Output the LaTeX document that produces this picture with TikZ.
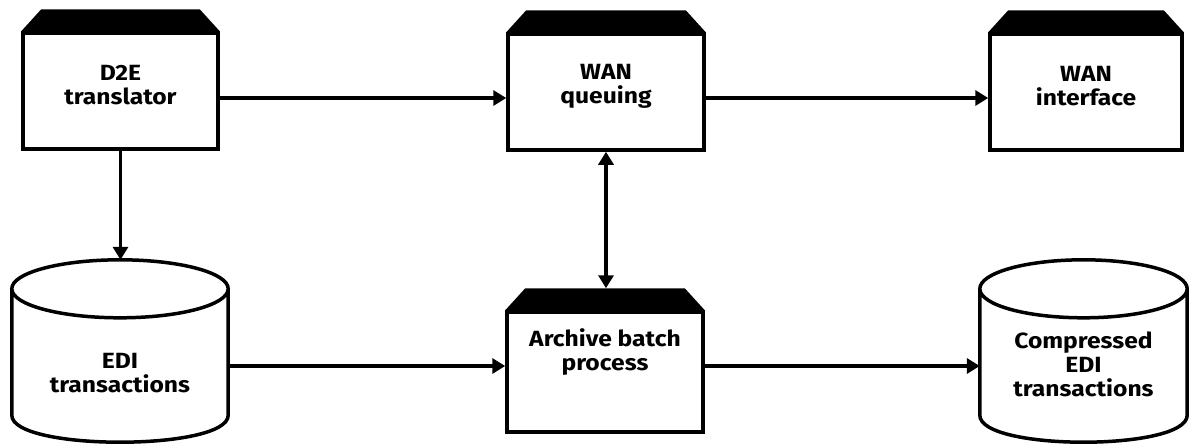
\documentclass[tikz,border=0pt]{standalone}
\usepackage{fontspec}
\setmainfont{Fira Sans}[FakeStretch=1.12]
\usetikzlibrary{arrows.meta,calc}

% black chamfered lid on top of a process box
\newcommand\roof[1]{%
  \fill let \p1=(#1.north west), \p2=(#1.north east) in
    (\p1) -- ({\x1+20pt},{\y1+22pt}) -- ({\x2-20pt},{\y2+22pt}) -- (\p2) -- cycle;}
% storage drum drawn around a node that covers its body
\newcommand\drum[1]{%
  \draw[line width=3.5pt] let \p1=(#1.north west), \p2=(#1.south east),
      \n1={0.5*(\x2-\x1)} in
    ({0.5*(\x1+\x2)},{\y1+17pt}) ellipse [x radius=\n1, y radius=29pt]
    (\x1,{\y1+17pt}) -- (\x1,{\y2+27pt})
    .. controls (\x1,{\y2-9pt}) and (\x2,{\y2-9pt}) .. (\x2,{\y2+27pt})
    -- (\x2,{\y1+17pt});}

\begin{document}
\begin{tikzpicture}[x=1pt,y=-1pt,
  line join=miter,
  caption/.style={inner sep=0pt, align=center, font=\bfseries\fontsize{22}{24}\selectfont},
  proc/.style={draw, line width=3.5pt, inner sep=0pt},
  store/.style={inner sep=0pt},
  tip/.style={Triangle[length=13pt,width=15pt]},
  flow/.style={-{Triangle[length=13pt,width=15pt]}, line width=3.5pt},
  flowboth/.style={{Triangle[length=13pt,width=15pt]}-{Triangle[length=13pt,width=15pt]}, line width=3.5pt},
]
\useasboundingbox (0,0) rectangle (1189,445);

% process boxes
\node[proc, minimum width=195pt, minimum height=116pt] (d2e)  at (120.5,91) {};
\node[proc, minimum width=196pt, minimum height=116pt] (wanq) at (606,92)   {};
\node[proc, minimum width=192pt, minimum height=116pt] (wani) at (1086,92)  {};
\node[proc, minimum width=196pt, minimum height=120pt] (arch) at (605,372)  {};
\roof{d2e}\roof{wanq}\roof{wani}\roof{arch}
\node[caption] (d2etext)  at ([yshift=6pt]d2e.center)   {D2E\\translator};
\node[caption] (wanqtext) at ([yshift=6pt]wanq.center)  {WAN\\queuing};
\node[caption] (wanitext) at ([yshift=6pt]wani.center)  {WAN\\interface};
\node[caption] (archtext) at ([yshift=20pt]arch.center) {Archive batch\\process};

% data stores
\node[store, minimum width=216pt, minimum height=136pt] (edi)  at (120,374)    {};
\node[store, minimum width=207pt, minimum height=136pt] (cedi) at (1083.5,374) {};
\drum{edi}\drum{cedi}
\node[caption] (editext)  at ([yshift=1pt]edi.center)   {EDI\\transactions};
\node[caption] (ceditext) at ([yshift=10pt]cedi.center) {Compressed\\EDI\\transactions};

% connectors
\coordinate (editop) at ([yshift=46pt]edi.north);
\coordinate (archtop) at ([yshift=22pt]arch.north);
\coordinate (archin) at ([yshift=6pt]arch.west);
\coordinate (archout) at ([yshift=6pt]arch.east);
\draw[flow] ([yshift=-7pt]d2e.east) -- ([yshift=-7pt]d2e.east -| wanq.west);
\draw[flow] ([yshift=-6pt]wanq.east) -- ([yshift=-6pt]wanq.east -| wani.west);
\draw[flow] (d2e.south) -- (d2e.south |- editop);
\draw[flowboth] (wanq.south) -- (wanq.south |- archtop);
\draw[flow] (edi.east |- archin) -- (archin);
\draw[flow] (archout) -- (archout -| cedi.west);
\end{tikzpicture}
\end{document}
